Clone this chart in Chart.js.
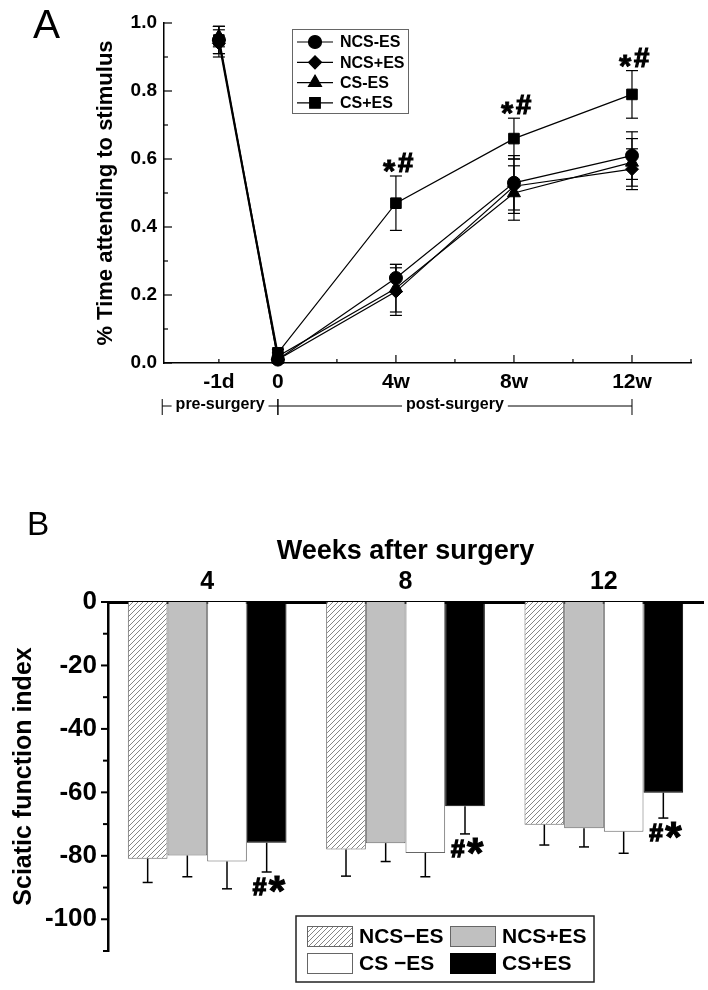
<!DOCTYPE html>
<html>
<head>
<meta charset="utf-8">
<script src="https://cdn.jsdelivr.net/npm/chart.js@4.4.1/dist/chart.umd.min.js"></script>
<style>
  body { margin: 0; background: #fff; }
  canvas { display: block; }
</style>
</head>
<body>
<canvas id="chart-a" width="708" height="470"></canvas>
<canvas id="chart-b" width="708" height="520"></canvas>
<script>
const FONT = "'Liberation Sans', Arial, sans-serif";

// Panel A - % time attending to stimulus
const timePos = [-1, 0, 2, 4, 6];
const timeLabels = ['-1d', '0', '4w', '8w', '12w'];
const seriesNames = ['NCS-ES', 'NCS+ES', 'CS-ES', 'CS+ES'];
const seriesMarkers = ['circle', 'rectRot', 'triangle', 'rect'];
const ncsMinusEs = [0.95, 0.01, 0.25, 0.53, 0.61];
const ncsPlusEs = [0.94, 0.01, 0.21, 0.52, 0.57];
const csMinusEs = [0.96, 0.02, 0.22, 0.50, 0.59];
const csPlusEs = [0.95, 0.03, 0.47, 0.66, 0.79];
const ncsMinusEsErr = [0.04, 0.01, 0.04, 0.08, 0.07];
const ncsPlusEsErr = [0.04, 0.01, 0.07, 0.08, 0.06];
const csMinusEsErr = [0.03, 0.01, 0.07, 0.08, 0.07];
const csPlusEsErr = [0.04, 0.01, 0.08, 0.06, 0.07];
const sigA = ['', '', '*#', '*#', '*#'];
const yTicksA = [0, 0.2, 0.4, 0.6, 0.8, 1.0];
const periods = [
    { label: 'pre-surgery', from: -1.96, to: 0 },
    { label: 'post-surgery', from: 0, to: 6 }
];

// Panel B - sciatic function index
const weekGroups = ['4', '8', '12'];
const barNames = ['NCS\u2212ES', 'NCS+ES', 'CS \u2212ES', 'CS+ES'];
const sfiNcsMinus = [-80.9, -78.0, -70.2];
const sfiNcsPlus = [-79.9, -76.0, -71.3];
const sfiCsMinus = [-81.8, -79.1, -72.4];
const sfiCsPlus = [-75.9, -64.4, -60.1];
const sfiNcsMinusErr = [7.5, 8.4, 6.4];
const sfiNcsPlusErr = [6.7, 5.8, 5.9];
const sfiCsMinusErr = [8.6, 7.5, 6.8];
const sfiCsPlusErr = [9.2, 8.7, 8.0];
const sigB = ['#*', '#*', '#*'];
const yTicksB = [0, -20, -40, -60, -80, -100];

Chart.defaults.font.family = FONT;
Chart.defaults.color = '#000';

// draw a single glyph so that its ink box starts at (left, top) with height h
function glyph(ctx, ch, weight, h, left, top, thicken) {
    ctx.textAlign = 'left';
    ctx.textBaseline = 'alphabetic';
    ctx.font = weight + ' 100px ' + FONT;
    let m = ctx.measureText(ch);
    const size = 100 * h / (m.actualBoundingBoxAscent + m.actualBoundingBoxDescent);
    ctx.font = weight + ' ' + size + 'px ' + FONT;
    m = ctx.measureText(ch);
    const gx = left + m.actualBoundingBoxLeft, gy = top + m.actualBoundingBoxAscent;
    ctx.fillText(ch, gx, gy);
    if (thicken) {
        ctx.lineWidth = thicken;
        ctx.strokeStyle = ctx.fillStyle;
        ctx.strokeText(ch, gx, gy);
    }
}

function seg(ctx, x0, y0, x1, y1) {
    ctx.beginPath();
    ctx.moveTo(x0, y0);
    ctx.lineTo(x1, y1);
    ctx.stroke();
}

const panelAPlugin = {
    id: 'panelA',
    afterDatasetsDraw(chart) {
        const { ctx, scales: { x, y } } = chart;
        ctx.save();
        ctx.strokeStyle = '#000';
        ctx.lineWidth = 1.2;
        chart.data.datasets.forEach(ds => {
            ds.data.forEach((p, j) => {
                const e = ds.errors[j];
                const px = x.getPixelForValue(p.x);
                const top = y.getPixelForValue(p.y + e);
                const bot = y.getPixelForValue(p.y - e);
                seg(ctx, px, top, px, bot);
                seg(ctx, px - 6, top, px + 6, top);
                seg(ctx, px - 6, bot, px + 6, bot);
            });
        });
        ctx.restore();
    },
    afterDraw(chart) {
        const { ctx, scales: { x, y } } = chart;
        ctx.save();
        ctx.strokeStyle = '#000';
        ctx.fillStyle = '#000';
        ctx.lineWidth = 1.2;

        // inward tick marks
        for (let v = -1; v <= 7; v++) {
            const px = x.getPixelForValue(v);
            const len = (v >= 0 && v % 2 === 0) ? 8 : 4;
            seg(ctx, px, y.bottom, px, y.bottom - len);
        }
        for (let k = 0; k <= 10; k++) {
            const py = y.getPixelForValue(k / 10);
            seg(ctx, x.left, py, x.left + (k % 2 === 0 ? 8 : 4), py);
        }

        // pre / post surgery brackets
        ctx.lineWidth = 1;
        ctx.font = 'bold 16px ' + FONT;
        ctx.textAlign = 'center';
        ctx.textBaseline = 'middle';
        periods.forEach(p => {
            const x0 = x.getPixelForValue(p.from);
            const x1 = x.getPixelForValue(p.to);
            const cx = (x0 + x1) / 2;
            const tw = ctx.measureText(p.label).width;
            seg(ctx, x0, 406, cx - tw / 2 - 4, 406);
            seg(ctx, cx + tw / 2 + 4, 406, x1, 406);
            seg(ctx, x0, 399, x0, 415);
            seg(ctx, x1, 399, x1, 415);
            ctx.fillText(p.label, cx, 405);
        });

        // significance marks over CS+ES
        const last = chart.data.datasets[3];
        sigA.forEach((s, j) => {
            if (!s) return;
            const px = x.getPixelForValue(timePos[j]);
            const top = y.getPixelForValue(last.data[j].y + last.errors[j]);
            glyph(ctx, '*', 'bold', 12, px - 13, top - 16, 0.8);
            glyph(ctx, '#', 'bold', 19, px + 2, top - 23, 1.2);
        });

        // legend
        const lx = 292, ly = 29;
        ctx.strokeStyle = '#666';
        ctx.lineWidth = 1;
        ctx.strokeRect(lx + 0.5, ly + 0.5, 116, 84);
        ctx.font = 'bold 16px ' + FONT;
        ctx.textAlign = 'left';
        ctx.textBaseline = 'middle';
        chart.data.datasets.forEach((ds, i) => {
            const ry = ly + 13 + i * 20.3;
            ctx.strokeStyle = '#000';
            ctx.lineWidth = 1.2;
            seg(ctx, lx + 5, ry, lx + 41, ry);
            ctx.fillStyle = '#000';
            Chart.helpers.drawPoint(ctx, {
                pointStyle: ds.pointStyle, radius: ds.pointRadius, rotation: 0, borderWidth: 1
            }, lx + 23, ry);
            ctx.fillText(ds.label, lx + 48, ry + 1);
        });

        glyph(ctx, 'A', 'normal', 28, 33, 10);
        ctx.restore();
    }
};

const radiiA = [6.5, 6.5, 7.5, 7.5];
const valuesA = [ncsMinusEs, ncsPlusEs, csMinusEs, csPlusEs];
const errorsA = [ncsMinusEsErr, ncsPlusEsErr, csMinusEsErr, csPlusEsErr];

new Chart(document.getElementById('chart-a'), {
    type: 'line',
    data: {
        datasets: seriesNames.map((name, i) => ({
            label: name,
            data: valuesA[i].map((v, j) => ({ x: timePos[j], y: v })),
            errors: errorsA[i],
            borderColor: '#000',
            borderWidth: 1.2,
            pointStyle: seriesMarkers[i],
            pointRadius: radiiA[i],
            pointBackgroundColor: '#000',
            pointBorderColor: '#000',
            pointBorderWidth: 1,
            tension: 0,
            clip: false
        }))
    },
    options: {
        responsive: false,
        animation: false,
        layout: { padding: { top: 23, right: 17, left: 0, bottom: 0 } },
        plugins: { legend: { display: false }, tooltip: { enabled: false } },
        scales: {
            x: {
                type: 'linear',
                min: -1.93,
                max: 7,
                afterBuildTicks: s => { s.ticks = timePos.map(v => ({ value: v })); },
                afterFit: s => { s.height = 107; },
                grid: { display: false, drawTicks: false },
                border: { color: '#000', width: 1.5 },
                ticks: {
                    font: { size: 21, weight: 'bold' },
                    padding: 7,
                    maxRotation: 0,
                    callback: v => timeLabels[timePos.indexOf(v)]
                }
            },
            y: {
                min: 0,
                max: 1,
                afterBuildTicks: s => { s.ticks = yTicksA.map(v => ({ value: v })); },
                afterFit: s => { s.width = 164; },
                grid: { display: false, drawTicks: false },
                border: { color: '#000', width: 1.5 },
                ticks: {
                    font: { size: 19, weight: 'bold' },
                    padding: 7,
                    callback: v => v.toFixed(1)
                },
                title: {
                    display: true,
                    text: '% Time attending to stimulus',
                    font: { size: 22, weight: 'bold' },
                    padding: { top: 93, bottom: 0 }
                }
            }
        }
    },
    plugins: [panelAPlugin]
});

// Panel B
const ctxB = document.getElementById('chart-b').getContext('2d');

function hatchPattern(ctx) {
    const c = document.createElement('canvas');
    c.width = 5;
    c.height = 5;
    const g = c.getContext('2d');
    g.fillStyle = '#fff';
    g.fillRect(0, 0, 5, 5);
    g.strokeStyle = '#666';
    g.lineWidth = 0.8;
    g.beginPath();
    g.moveTo(0, 5); g.lineTo(5, 0);
    g.moveTo(-1, 1); g.lineTo(1, -1);
    g.moveTo(4, 6); g.lineTo(6, 4);
    g.stroke();
    return ctx.createPattern(c, 'repeat');
}

const valuesB = [sfiNcsMinus, sfiNcsPlus, sfiCsMinus, sfiCsPlus];
const errorsB = [sfiNcsMinusErr, sfiNcsPlusErr, sfiCsMinusErr, sfiCsPlusErr];
const fillsB = [hatchPattern(ctxB), '#c0c0c0', '#ffffff', '#000000'];
const edgesB = ['#666', '#666', '#666', '#000'];

const panelBPlugin = {
    id: 'panelB',
    afterDatasetsDraw(chart) {
        const { ctx, scales: { y } } = chart;
        ctx.save();
        ctx.strokeStyle = '#000';
        ctx.lineWidth = 1.5;
        chart.data.datasets.forEach((ds, i) => {
            const meta = chart.getDatasetMeta(i);
            meta.data.forEach((bar, j) => {
                const end = y.getPixelForValue(ds.data[j] - ds.errors[j]);
                seg(ctx, bar.x, bar.y, bar.x, end);
                seg(ctx, bar.x - 5, end, bar.x + 5, end);
            });
        });
        ctx.restore();
    },
    afterDraw(chart) {
        const { ctx, scales: { y } } = chart;
        ctx.save();
        ctx.strokeStyle = '#000';
        ctx.fillStyle = '#000';

        // outward y tick marks
        ctx.lineWidth = 2;
        for (let v = 0; v >= -110; v -= 10) {
            const py = y.getPixelForValue(v);
            seg(ctx, y.right, py, y.right - (v % 20 === 0 ? 7 : 5), py);
        }

        // significance marks under CS+ES
        const last = chart.data.datasets[3];
        const meta = chart.getDatasetMeta(3);
        sigB.forEach((s, j) => {
            if (!s) return;
            const xc = meta.data[j].x;
            const yb = y.getPixelForValue(last.data[j] - last.errors[j]);
            ctx.fillStyle = '#000';
            glyph(ctx, '#', 'bold', 17, xc - 14, yb + 6, 1.4);
            glyph(ctx, '*', 'bold', 16, xc + 2, yb + 4, 1);
        });

        // legend
        const lx = 296, ly = 446;
        ctx.strokeStyle = '#222';
        ctx.lineWidth = 1.5;
        ctx.strokeRect(lx, ly, 298, 66);
        ctx.font = 'bold 21px ' + FONT;
        ctx.textAlign = 'left';
        ctx.textBaseline = 'middle';
        chart.data.datasets.forEach((ds, i) => {
            const col = i % 2, row = Math.floor(i / 2);
            const sx = lx + 11 + col * 143, sy = ly + 10 + row * 27;
            ctx.fillStyle = ds.backgroundColor;
            ctx.fillRect(sx, sy, 45, 20);
            ctx.strokeStyle = ds.borderColor;
            ctx.lineWidth = 1;
            ctx.strokeRect(sx + 0.5, sy + 0.5, 45, 20);
            ctx.fillStyle = '#000';
            ctx.fillText(ds.label, sx + 52, sy + 11);
        });

        glyph(ctx, 'B', 'normal', 23, 29, 42);
        ctx.restore();
    }
};

new Chart(ctxB, {
    type: 'bar',
    data: {
        labels: weekGroups,
        datasets: barNames.map((name, i) => ({
            label: name,
            data: valuesB[i],
            errors: errorsB[i],
            backgroundColor: fillsB[i],
            borderColor: edgesB[i],
            borderWidth: 1,
            categoryPercentage: 0.8,
            barPercentage: 1.0
        }))
    },
    options: {
        responsive: false,
        animation: false,
        layout: { padding: { top: 0, right: 5, left: 0, bottom: 39 } },
        plugins: { legend: { display: false }, tooltip: { enabled: false } },
        scales: {
            x: {
                position: 'top',
                afterFit: s => { s.height = 132; },
                grid: { display: false, drawTicks: false },
                border: { color: '#000', width: 3 },
                ticks: { font: { size: 25, weight: 'bold' }, padding: 5 },
                title: {
                    display: true,
                    text: 'Weeks after surgery',
                    font: { size: 27, weight: 'bold' },
                    padding: { top: 65, bottom: 0 }
                }
            },
            y: {
                min: -110,
                max: 0,
                afterBuildTicks: s => { s.ticks = yTicksB.map(v => ({ value: v })); },
                afterFit: s => { s.width = 108; },
                grid: { display: false, drawTicks: false },
                border: { color: '#000', width: 2.5 },
                ticks: { font: { size: 26, weight: 'bold' }, padding: 11 },
                title: {
                    display: true,
                    text: 'Sciatic function index',
                    font: { size: 25, weight: 'bold' },
                    padding: { top: 9, bottom: 0 }
                }
            }
        }
    },
    plugins: [panelBPlugin]
});
</script>
</body>
</html>
